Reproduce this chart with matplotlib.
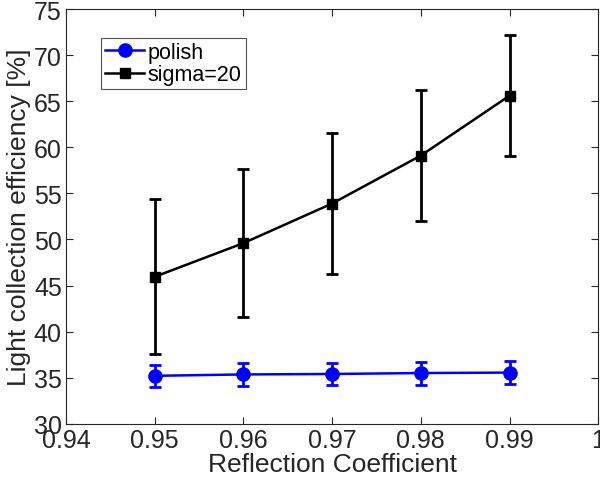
import numpy as np
import matplotlib
matplotlib.use("Agg")
import matplotlib.pyplot as plt
from matplotlib.lines import Line2D

plt.rcParams['font.family'] = ['Liberation Sans', 'DejaVu Sans']

reflection = [0.95, 0.96, 0.97, 0.98, 0.99]

polish_eff = [35.2, 35.35, 35.4, 35.5, 35.55]
polish_err = [1.2, 1.25, 1.2, 1.25, 1.25]

sigma20_eff = [45.95, 49.6, 53.9, 59.1, 65.6]
sigma20_err = [8.4, 8.05, 7.6, 7.1, 6.55]

xticks = [0.94, 0.95, 0.96, 0.97, 0.98, 0.99, 1.0]
xtick_labels = ['0.94', '0.95', '0.96', '0.97', '0.98', '0.99', '1']
yticks = [30, 35, 40, 45, 50, 55, 60, 65, 70, 75]

fig = plt.figure(figsize=(6, 4.81), dpi=100)
ax = fig.add_axes([0.11, 0.117, 0.887, 0.862])

blue = '#0000ff'
ax.errorbar(reflection, polish_eff, yerr=polish_err, color=blue,
            marker='o', markersize=9.5, linewidth=1.8, elinewidth=2,
            capsize=4, capthick=2)
ax.errorbar(reflection, sigma20_eff, yerr=sigma20_err, color='k',
            marker='s', markersize=7.5, linewidth=1.8, elinewidth=2,
            capsize=4, capthick=2)

ax.set_xlim(0.94, 1.0)
ax.set_ylim(30, 75)
ax.set_xticks(xticks)
ax.set_xticklabels(xtick_labels)
ax.set_yticks(yticks)

ax.tick_params(direction='in', top=True, right=True, length=5,
               width=0.8, labelsize=18, colors='#262626', pad=3)
for spine in ax.spines.values():
    spine.set_color('#262626')
    spine.set_linewidth(0.8)

ax.set_xlabel('Reflection Coefficient', fontsize=19, color='#262626', labelpad=0)
ax.set_ylabel('Light collection efficiency [%]', fontsize=19, color='#262626', labelpad=2)

# legend shows line + marker only, like MATLAB
handles = [
    Line2D([], [], color=blue, marker='o', markersize=9.5, linewidth=1.8),
    Line2D([], [], color='k', marker='s', markersize=7.5, linewidth=1.8),
]
leg = ax.legend(handles, ['polish', 'sigma=20'], loc='upper left',
                bbox_to_anchor=(0.066, 0.931), fontsize=15.5,
                frameon=True, fancybox=False, edgecolor='#262626',
                handlelength=1.8, handletextpad=0.15, borderpad=0.2,
                labelspacing=0.05, borderaxespad=0)
leg.get_frame().set_linewidth(0.8)

fig.savefig('out.png', dpi=100)
